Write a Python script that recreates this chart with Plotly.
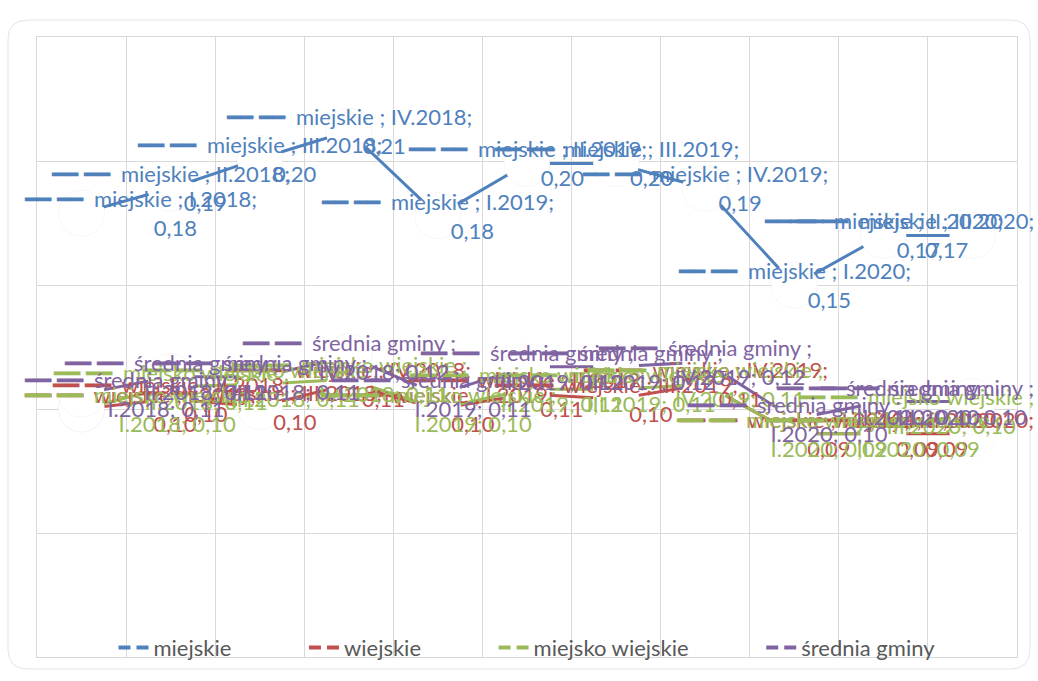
import plotly.graph_objects as go

categories = ["I.2018", "II.2018", "III.2018", "IV.2018", "I.2019", "II.2019",
              "III.2019", "IV.2019", "I.2020", "II.2020", "III.2020"]
miejskie = [0.179, 0.189, 0.201, 0.212, 0.178, 0.199, 0.199, 0.189, 0.150, 0.170, 0.170]
wiejskie = [0.100, 0.104, 0.101, 0.110, 0.100, 0.106, 0.104, 0.110, 0.090, 0.090, 0.090]
miejsko_wiejskie = [0.100, 0.109, 0.110, 0.112, 0.100, 0.108, 0.108, 0.110, 0.090, 0.090, 0.099]
srednia_gminy = [0.106, 0.113, 0.113, 0.121, 0.106, 0.117, 0.117, 0.119, 0.096, 0.103, 0.103]

series_names = ["miejskie", "wiejskie", "miejsko wiejskie", "średnia gminy"]
series_values = [miejskie, wiejskie, miejsko_wiejskie, srednia_gminy]
colors = ["#4F81BD", "#C0504D", "#9BBB59", "#8064A2"]

FONT = "Lato, 'Open Sans', sans-serif"
KEY = "━━\u00a0━━\u00a0\u00a0"


def fmt(v):
    return f"{v:.2f}".replace(".", ",")


fig = go.Figure()

for name, vals, color in zip(series_names, series_values, colors):
    fig.add_trace(go.Scatter(
        x=categories, y=vals, mode="lines+markers",
        line=dict(color=color, width=3),
        marker=dict(size=46, color="white", line=dict(color="rgba(0,0,0,0.035)", width=1)),
        showlegend=False, hoverinfo="skip"))

pad = "\u00a0" * 12
for k, (name, color) in enumerate(zip(series_names, colors)):
    fig.add_trace(go.Scatter(
        x=[None], y=[None], mode="lines",
        name=name + (pad if k < len(series_names) - 1 else ""),
        line=dict(color=color, width=4, dash="12px,6px")))

annotations = []
n = len(categories)
for name, vals, color in zip(series_names, series_values, colors):
    short = len(name) < 10
    for i, (cat, v) in enumerate(zip(categories, vals)):
        if short:
            l1 = f"{KEY}{name} ; {cat};"
            l2 = fmt(v)
        else:
            l1 = f"{KEY}{name} ;"
            l2 = f"{cat}; {fmt(v)}"
        text = f"{l1}<br><span style='color:rgba(0,0,0,0)'>{KEY}</span>{l2}"
        if i == 0:
            xanchor, xshift = "left", -60
        elif i == n - 1:
            xanchor, xshift = "right", 64
        else:
            xanchor, xshift = "center", 0
        annotations.append(dict(
            x=cat, y=v, xref="x", yref="y", text=text, showarrow=False,
            xanchor=xanchor, yanchor="middle", xshift=xshift, align="center",
            font=dict(family=FONT, size=22, color=color)))

# chart-area rounded border (paper coordinates)
x0, x1, y0, y1 = -0.0296, 1.0133, -0.0193, 1.0273
rx, ry = 0.02, 0.032
path = (f"M {x0+rx},{y1} L {x1-rx},{y1} Q {x1},{y1} {x1},{y1-ry} "
        f"L {x1},{y0+ry} Q {x1},{y0} {x1-rx},{y0} L {x0+rx},{y0} "
        f"Q {x0},{y0} {x0},{y0+ry} L {x0},{y1-ry} Q {x0},{y1} {x0+rx},{y1} Z")

fig.update_layout(
    width=1038, height=681,
    margin=dict(l=37, r=21, t=37, b=21),
    paper_bgcolor="white", plot_bgcolor="white",
    font=dict(family=FONT, size=22, color="#595959"),
    annotations=annotations,
    shapes=[dict(type="path", path=path, xref="paper", yref="paper",
                 line=dict(color="#E4E4E4", width=1), layer="below")],
    legend=dict(orientation="h", x=0.5, xanchor="center", y=0.015, yanchor="middle",
                bgcolor="rgba(0,0,0,0)", font=dict(family=FONT, size=22, color="#595959")),
    xaxis=dict(type="category", categoryorder="array", categoryarray=categories,
               tickson="boundaries", showgrid=True, gridcolor="#D9D9D9", gridwidth=1,
               showticklabels=False, ticks="", showline=True, linecolor="#D9D9D9",
               mirror=True, range=[-0.5, n - 0.5], zeroline=False),
    yaxis=dict(range=[0, 0.25], dtick=0.05, showgrid=True, gridcolor="#D9D9D9",
               showticklabels=False, ticks="", showline=True, linecolor="#D9D9D9",
               mirror=True, zeroline=False),
)

fig.write_html("out.html", config={"displayModeBar": False},
               post_script="document.body.style.margin='0';")
